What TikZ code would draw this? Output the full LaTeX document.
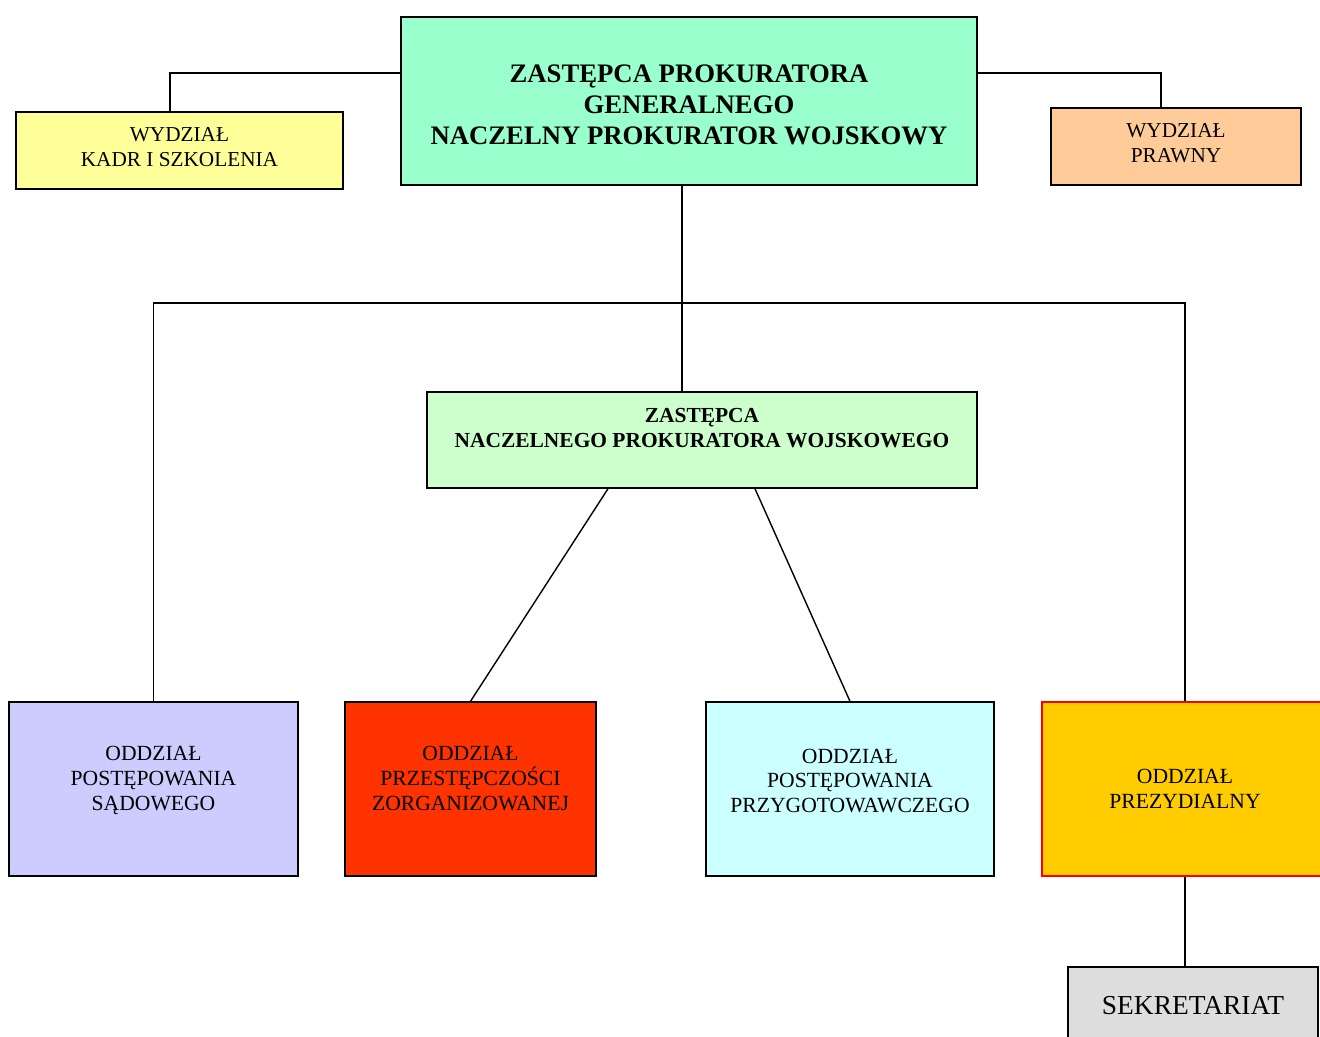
\documentclass[tikz,border=0pt]{standalone}
\usepackage{fontspec}
\setmainfont{Liberation Serif}
\definecolor{chiefgreen}{HTML}{99FFCC}
\definecolor{deputygreen}{HTML}{CCFFCC}
\definecolor{kadryellow}{HTML}{FFFF99}
\definecolor{laworange}{HTML}{FFCC99}
\definecolor{courtblue}{HTML}{CCCCFF}
\definecolor{crimered}{HTML}{FF3300}
\definecolor{prepcyan}{HTML}{CCFFFF}
\definecolor{presgold}{HTML}{FFCC00}
\definecolor{secgrey}{HTML}{DDDDDD}

\begin{document}
\begin{tikzpicture}[x=0.02cm,y=-0.02cm,line width=0.8pt,
  unit node/.style={draw,line width=0.8pt,align=center,inner sep=0pt,
    font=\fontsize{12.1}{14.2}\selectfont},
  office node/.style={unit node,minimum height=3.48cm,text depth=12.4pt,
    font=\fontsize{12.3}{14.2}\selectfont},
  chief node/.style={unit node,font=\bfseries\fontsize{15.2}{17.6}\selectfont},
  deputy node/.style={unit node,font=\bfseries\fontsize{12.2}{14.2}\selectfont}]

  \useasboundingbox (0,0) rectangle (1320,1037);

  \node[chief node,fill=chiefgreen,minimum width=11.52cm,minimum height=3.36cm,text height=49.6pt] (chief) at (689,101)
    {ZASTĘPCA PROKURATORA\\GENERALNEGO\\NACZELNY PROKURATOR WOJSKOWY};
  \node[unit node,fill=kadryellow,minimum width=6.54cm,minimum height=1.54cm,text depth=3.5pt] (kadr) at (179.5,150.5)
    {WYDZIAŁ\\KADR I SZKOLENIA};
  \node[unit node,fill=laworange,minimum width=5cm,minimum height=1.54cm,text depth=3.5pt] (prawny) at (1176,146.5)
    {WYDZIAŁ\\PRAWNY};
  \node[deputy node,fill=deputygreen,minimum width=11cm,minimum height=1.92cm,text depth=13.6pt] (deputy) at (702,440)
    {ZASTĘPCA\\NACZELNEGO PROKURATORA WOJSKOWEGO};

  \node[office node,fill=courtblue,minimum width=5.78cm] (sadowy) at (153.5,789)
    {ODDZIAŁ\\POSTĘPOWANIA\\SĄDOWEGO};
  \node[office node,fill=crimered,minimum width=5.02cm] (zorg) at (470.5,789)
    {ODDZIAŁ\\PRZESTĘPCZOŚCI\\ZORGANIZOWANEJ};
  \node[office node,fill=prepcyan,minimum width=5.76cm,text depth=9.3pt] (przygot) at (850,789)
    {ODDZIAŁ\\POSTĘPOWANIA\\PRZYGOTOWAWCZEGO};
  \node[office node,draw=red,fill=presgold,minimum width=5.72cm,text depth=0pt] (prezyd) at (1185,789)
    {ODDZIAŁ\\PREZYDIALNY};
  \node[unit node,fill=secgrey,minimum width=5cm,minimum height=1.56cm,
    font=\fontsize{15.6}{18}\selectfont] (sekr) at (1193,1006) {SEKRETARIAT};

  \coordinate (kadr tap) at (170,73);
  \coordinate (prawny tap) at (1161,73);
  \coordinate (trunk) at (682,303);

  % upper links
  \draw (chief.west |- kadr tap) -- (kadr tap) -- (kadr tap |- kadr.north);
  \draw (chief.east |- prawny tap) -- (prawny tap) -- (prawny tap |- prawny.north);
  \draw (chief.south -| trunk) -- (deputy.north -| trunk);
  \draw (sadowy.north) |- (trunk) -| (prezyd.north);

  % deputy links
  \draw ([xshift=-1.88cm]deputy.south) -- (zorg.north);
  \draw ([xshift=1.06cm]deputy.south) -- (przygot.north);
  \draw (prezyd.south) -- (prezyd.south |- sekr.north);
\end{tikzpicture}
\end{document}
